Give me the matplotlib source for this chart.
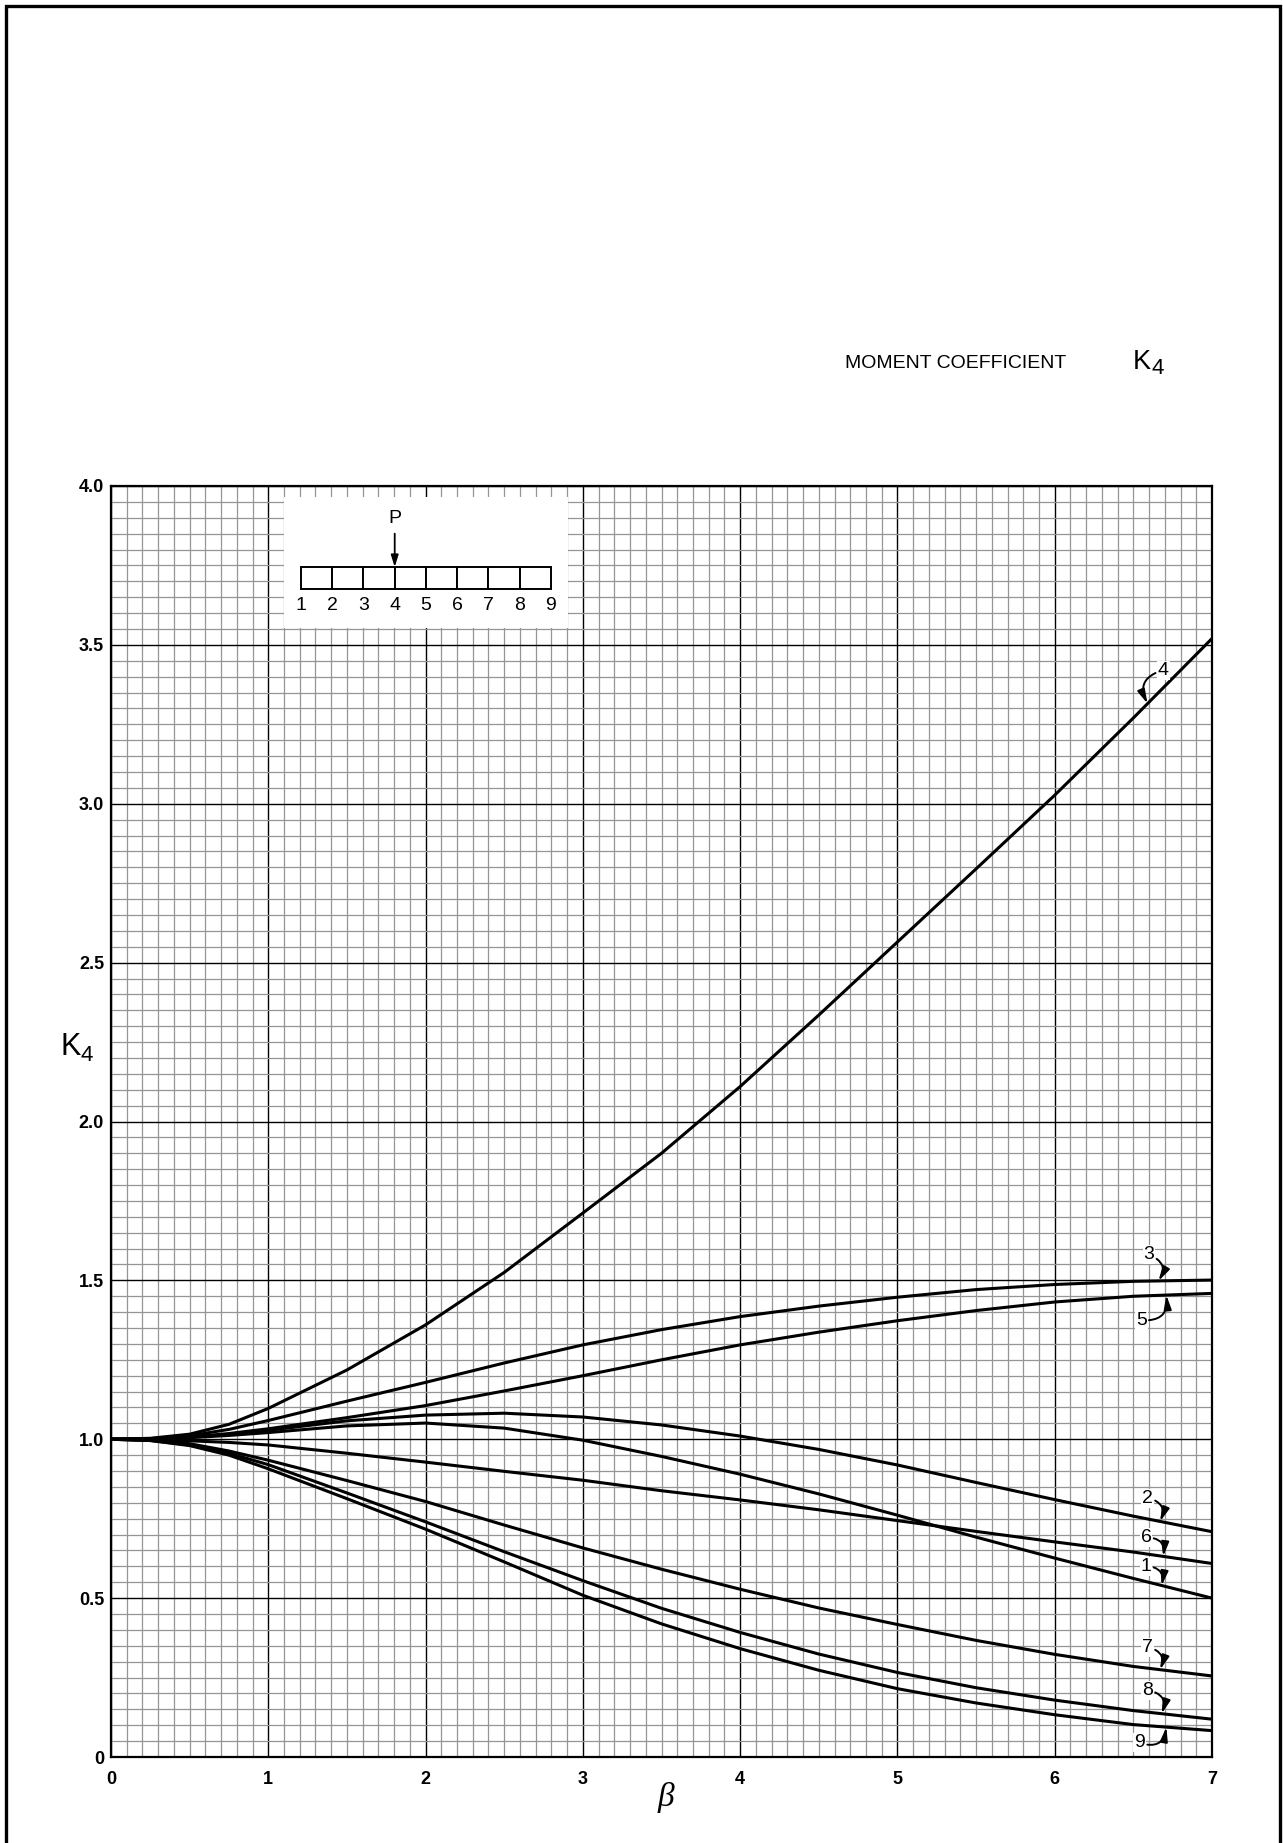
import matplotlib
matplotlib.use("Agg")
import matplotlib.pyplot as plt
from matplotlib.patches import Rectangle
from matplotlib.ticker import MultipleLocator
import numpy as np

plt.rcParams['font.family'] = ['Liberation Sans', 'DejaVu Sans']

# beta values where the curves were read
beta = [0, 0.25, 0.5, 0.75, 1, 1.5, 2, 2.5, 3, 3.5, 4, 4.5, 5, 5.5, 6, 6.5, 7]

# K4 for each point of the beam
k_curves = {
    '4': [1.0, 1.003, 1.016, 1.047, 1.097, 1.218, 1.36, 1.525, 1.712, 1.90, 2.11, 2.335, 2.565, 2.795, 3.027, 3.27, 3.52],
    '3': [1.0, 1.002, 1.011, 1.031, 1.059, 1.12, 1.179, 1.24, 1.297, 1.345, 1.386, 1.419, 1.447, 1.471, 1.487, 1.497, 1.501],
    '5': [1.0, 1.001, 1.007, 1.018, 1.033, 1.068, 1.106, 1.152, 1.20, 1.25, 1.297, 1.337, 1.373, 1.405, 1.432, 1.450, 1.459],
    '2': [1.0, 1.001, 1.006, 1.015, 1.028, 1.058, 1.076, 1.082, 1.07, 1.045, 1.01, 0.968, 0.919, 0.864, 0.81, 0.758, 0.709],
    '1': [1.0, 1.001, 1.005, 1.012, 1.021, 1.042, 1.051, 1.035, 0.997, 0.946, 0.89, 0.828, 0.761, 0.692, 0.626, 0.562, 0.50],
    '6': [1.0, 0.999, 0.995, 0.99, 0.982, 0.956, 0.928, 0.899, 0.871, 0.838, 0.809, 0.778, 0.744, 0.71, 0.677, 0.645, 0.609],
    '7': [1.0, 0.997, 0.986, 0.963, 0.934, 0.87, 0.804, 0.73, 0.658, 0.591, 0.528, 0.469, 0.417, 0.367, 0.323, 0.285, 0.255],
    '8': [1.0, 0.996, 0.982, 0.956, 0.92, 0.831, 0.74, 0.646, 0.555, 0.468, 0.392, 0.324, 0.266, 0.218, 0.179, 0.146, 0.119],
    '9': [1.0, 0.996, 0.98, 0.95, 0.907, 0.813, 0.717, 0.614, 0.509, 0.419, 0.341, 0.273, 0.215, 0.17, 0.133, 0.102, 0.083],
}

# label text position (beta, K), beta where the arrow meets the curve, arrow bend
label_pos = {
    '4': (6.69, 3.42, 6.59, 0.6),
    '3': (6.60, 1.58, 6.66, -0.6),
    '5': (6.55, 1.375, 6.71, 0.6),
    '2': (6.59, 0.815, 6.67, -0.6),
    '6': (6.58, 0.69, 6.69, -0.6),
    '1': (6.58, 0.60, 6.68, -0.6),
    '7': (6.59, 0.345, 6.67, -0.6),
    '8': (6.59, 0.21, 6.68, -0.6),
    '9': (6.54, 0.045, 6.71, 0.6),
}

x_ticks = [0, 1, 2, 3, 4, 5, 6, 7]
y_ticks = [0, 0.5, 1.0, 1.5, 2.0, 2.5, 3.0, 3.5, 4.0]
y_tick_labels = ['0', '0.5', '1.0', '1.5', '2.0', '2.5', '3.0', '3.5', '4.0']
nodes = ['1', '2', '3', '4', '5', '6', '7', '8', '9']
load_node = 4

fig = plt.figure(figsize=(12.83, 18.43), dpi=100)
ax = fig.add_axes([111 / 1283, 86 / 1843, 1101 / 1283, 1271 / 1843])

ax.set_xlim(0, 7)
ax.set_ylim(0, 4)
ax.set_xticks(x_ticks)
ax.set_xticklabels([str(t) for t in x_ticks])
ax.set_yticks(y_ticks)
ax.set_yticklabels(y_tick_labels)
ax.xaxis.set_minor_locator(MultipleLocator(0.1))
ax.yaxis.set_minor_locator(MultipleLocator(0.05))
ax.set_axisbelow(True)
ax.grid(which='minor', color='#959595', lw=0.9)
ax.grid(which='major', color='black', lw=1.0)
ax.tick_params(which='both', length=0)
ax.tick_params(axis='x', pad=10)
ax.tick_params(axis='y', pad=5)
for lbl in ax.get_xticklabels() + ax.get_yticklabels():
    lbl.set_fontsize(13)
    lbl.set_fontweight('bold')
for sp in ax.spines.values():
    sp.set_linewidth(1.6)

for name, k in k_curves.items():
    ax.plot(beta, k, color='black', lw=2.2, zorder=3,
            solid_capstyle='butt', solid_joinstyle='round')

for name, (tx, ty, bx, rad) in label_pos.items():
    by = np.interp(bx, beta, k_curves[name])
    ax.annotate(name, xy=(bx, by), xytext=(tx, ty), fontsize=14,
                ha='center', va='center', zorder=5,
                bbox=dict(boxstyle='square,pad=0.05', fc='white', ec='none'),
                arrowprops=dict(arrowstyle='-|>,head_length=0.6,head_width=0.16',
                                color='black', lw=1.4, shrinkA=1, shrinkB=0,
                                connectionstyle='arc3,rad=%s' % rad))

# beam sketch with the load P
ax.add_patch(Rectangle((1.10, 3.553), 1.805, 0.413, fc='white', ec='none', zorder=2))
x0, dx = 1.208, 0.1986
y0, h = 3.676, 0.069
for i in range(len(nodes) - 1):
    ax.add_patch(Rectangle((x0 + i * dx, y0), dx, h, fc='white', ec='black', lw=1.4, zorder=3))
for i, n in enumerate(nodes):
    ax.text(x0 + i * dx, 3.623, n, fontsize=14, ha='center', va='center', zorder=4)
px = x0 + (load_node - 1) * dx
ax.annotate('', xy=(px, y0 + h), xytext=(px, 3.85), zorder=4,
            arrowprops=dict(arrowstyle='-|>,head_length=0.7,head_width=0.22',
                            color='black', lw=1.3, shrinkA=0, shrinkB=0))
ax.text(px, 3.898, 'P', fontsize=14, ha='center', va='center', zorder=4)

# axis labels: K with its subscript, and beta
ax.text(-0.027, 0.559, 'K', transform=ax.transAxes, fontsize=22,
        ha='right', va='center')
ax.text(-0.028, 0.552, '4', transform=ax.transAxes, fontsize=16,
        ha='left', va='center')
ax.text(0.504, -0.032, 'β', transform=ax.transAxes, fontsize=24,
        family='Liberation Serif', style='italic', ha='center', va='center')

fig.text(845 / 1283, 1 - 364 / 1843, 'MOMENT COEFFICIENT', fontsize=14,
         ha='left', va='center')
fig.text(1133 / 1283, 1 - 362 / 1843, 'K', fontsize=19.5, ha='left', va='center')
fig.text(1152 / 1283, 1 - 368 / 1843, '4', fontsize=16, ha='left', va='center')

fig.patches.append(Rectangle((6 / 1283, -0.01), 1274 / 1283, 1.01 - 6 / 1843,
                             transform=fig.transFigure, fill=False,
                             ec='black', lw=2.4))

fig.savefig('out.png', dpi=100)
